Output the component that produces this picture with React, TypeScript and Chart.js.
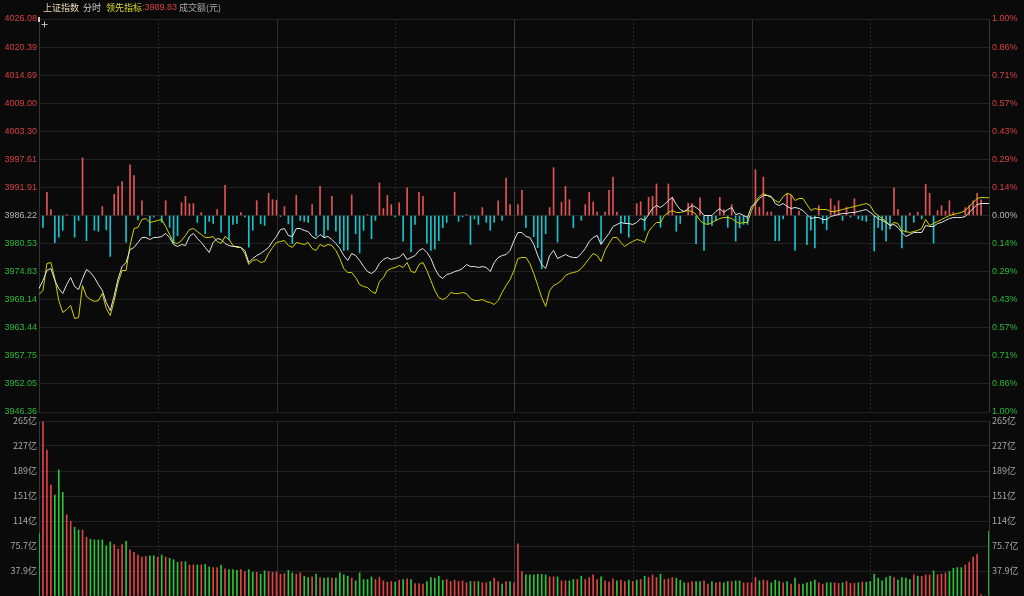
import React, { useEffect, useRef } from 'react';
import { Chart, registerables } from 'chart.js';

Chart.register(...registerables);

const BASE = 3986.22;
const PRICE_TICKS = [4026.08, 4020.39, 4014.69, 4009.0, 4003.3, 3997.61, 3991.91, 3986.22, 3980.53, 3974.83, 3969.14, 3963.44, 3957.75, 3952.05, 3946.36];
const PRICE_LABELS = ['4026.08', '4020.39', '4014.69', '4009.00', '4003.30', '3997.61', '3991.91', '3986.22', '3980.53', '3974.83', '3969.14', '3963.44', '3957.75', '3952.05', '3946.36'];
const PCT_LABELS = ['1.00%', '0.86%', '0.71%', '0.57%', '0.43%', '0.29%', '0.14%', '0.00%', '0.14%', '0.29%', '0.43%', '0.57%', '0.71%', '0.86%', '1.00%'];
const VOL_TICKS = [265.09, 227.22, 189.35, 151.48, 113.61, 75.74, 37.87];
const VOL_LABELS = ['265亿', '227亿', '189亿', '151亿', '114亿', '75.7亿', '37.9亿'];
const V_GRID = [30, 60, 90, 120, 150, 180, 210];
const V_GRID_SOLID = [false, true, false, true, false, true, false];

function hm(t: number): string {
  const h = Math.floor(t / 60);
  const m = t % 60;
  return (h < 10 ? '0' : '') + h + ':' + (m < 10 ? '0' : '') + m;
}
const TIMES: string[] = [];
for (let m = 0; m <= 120; m++) TIMES.push(hm(9 * 60 + 30 + m));
for (let m = 1; m <= 120; m++) TIMES.push(hm(13 * 60 + m));

const PRICE = [
  3971.41, 3973.03, 3975.06, 3975.47, 3973.03, 3971.41, 3970.39, 3972.22, 3973.64, 3971.81,
  3971.21, 3973.44, 3975.26, 3974.65, 3973.64, 3972.22, 3971.0, 3968.57, 3966.94, 3969.99,
  3973.44, 3975.87, 3976.68, 3979.32, 3979.73, 3980.74, 3981.76, 3981.76, 3981.35, 3981.76,
  3981.76, 3981.96, 3982.57, 3981.76, 3980.34, 3979.93, 3980.34, 3980.13, 3981.96, 3982.57,
  3981.55, 3980.74, 3979.73, 3978.71, 3980.74, 3981.55, 3981.35, 3980.54, 3980.13, 3979.93,
  3979.93, 3979.73, 3979.12, 3976.68, 3977.49, 3978.1, 3978.51, 3979.12, 3979.73, 3980.94,
  3981.96, 3983.38, 3983.58, 3982.16, 3981.96, 3983.58, 3983.58, 3983.18, 3982.97, 3981.96,
  3981.55, 3982.36, 3981.76, 3981.96, 3981.35, 3980.54, 3979.52, 3978.1, 3977.09, 3978.51,
  3978.1, 3977.09, 3975.87, 3974.86, 3974.45, 3975.06, 3976.48, 3977.29, 3977.7, 3977.29,
  3977.49, 3977.7, 3978.51, 3977.29, 3977.7, 3978.1, 3979.12, 3979.52, 3978.71, 3977.49,
  3975.47, 3974.05, 3973.44, 3974.25, 3974.45, 3974.86, 3975.06, 3975.47, 3976.28, 3975.87,
  3975.87, 3975.67, 3975.87, 3975.67, 3974.86, 3976.68, 3977.7, 3978.1, 3978.31, 3979.12,
  3981.15, 3982.77, 3982.77, 3981.96, 3981.76, 3980.34, 3978.1, 3976.28, 3975.47, 3978.1,
  3979.12, 3977.49, 3977.9, 3978.31, 3977.9, 3977.7, 3977.7, 3978.51, 3979.52, 3980.94,
  3981.76, 3982.16, 3980.34, 3981.55, 3982.57, 3983.99, 3984.39, 3984.8, 3984.6, 3984.6,
  3984.39, 3984.8, 3985.61, 3985.21, 3986.42, 3987.64, 3988.25, 3987.84, 3988.45, 3989.26,
  3989.87, 3988.45, 3987.44, 3987.03, 3987.64, 3988.25, 3987.84, 3987.23, 3986.22, 3986.22,
  3986.22, 3987.03, 3987.64, 3986.83, 3987.44, 3987.84, 3986.42, 3986.63, 3986.22, 3985.81,
  3988.05, 3988.65, 3989.67, 3990.28, 3990.28, 3990.08, 3988.65, 3988.25, 3988.65, 3988.05,
  3987.64, 3987.84, 3987.64, 3987.23, 3986.42, 3985.61, 3985.81, 3985.81, 3985.41, 3985.41,
  3986.02, 3986.22, 3986.42, 3986.63, 3986.63, 3986.83, 3986.83, 3987.03, 3987.23, 3987.44,
  3986.83, 3986.22, 3985.61, 3985.21, 3984.8, 3984.19, 3984.39, 3983.79, 3982.77, 3981.96,
  3982.36, 3982.77, 3982.77, 3982.77, 3984.19, 3983.99, 3983.99, 3984.6, 3984.8, 3985.21,
  3985.61, 3985.81, 3985.81, 3985.81, 3986.02, 3986.83, 3987.64, 3988.45, 3988.65, 3988.65,
  3988.65,
];

const LEAD = [
  3970.19, 3971.0, 3976.48, 3976.68, 3973.44, 3968.97, 3966.54, 3967.15, 3967.96, 3965.32,
  3965.52, 3972.02, 3969.78, 3969.18, 3968.77, 3968.97, 3970.39, 3967.35, 3965.93, 3968.97,
  3972.63, 3975.06, 3975.06, 3980.13, 3983.58, 3983.79, 3985.41, 3985.61, 3984.8, 3985.0,
  3985.21, 3985.41, 3983.99, 3982.36, 3980.74, 3980.54, 3981.15, 3982.16, 3983.38, 3983.58,
  3982.97, 3982.36, 3981.76, 3981.76, 3981.96, 3980.94, 3980.54, 3981.96, 3981.35, 3980.13,
  3979.73, 3979.73, 3978.51, 3976.28, 3977.09, 3977.29, 3976.68, 3976.89, 3978.51, 3979.73,
  3980.74, 3980.94, 3981.15, 3980.13, 3979.73, 3980.74, 3980.54, 3980.34, 3980.74, 3979.52,
  3979.12, 3980.34, 3979.93, 3980.34, 3980.13, 3979.12, 3977.49, 3975.47, 3974.65, 3974.65,
  3973.64, 3972.22, 3971.81, 3971.61, 3970.8, 3970.39, 3972.83, 3973.64, 3975.06, 3975.47,
  3975.67, 3976.07, 3975.67, 3976.68, 3974.86, 3974.65, 3976.28, 3976.68, 3975.06, 3973.03,
  3971.0, 3969.58, 3969.18, 3969.58, 3970.6, 3970.39, 3970.39, 3970.6, 3970.39, 3969.38,
  3968.97, 3968.97, 3969.18, 3968.77, 3968.57, 3968.16, 3968.97, 3970.6, 3972.02, 3973.23,
  3975.06, 3977.49, 3977.7, 3977.7, 3976.48, 3974.45, 3972.02, 3969.58, 3967.76, 3971.0,
  3972.02, 3972.42, 3973.03, 3974.05, 3974.45, 3974.65, 3974.86, 3975.47, 3976.48, 3977.49,
  3978.51, 3978.1, 3976.89, 3979.12, 3980.54, 3981.76, 3981.76, 3980.74, 3979.93, 3980.54,
  3980.94, 3981.35, 3981.15, 3980.74, 3982.97, 3983.99, 3984.8, 3984.8, 3986.22, 3986.83,
  3987.23, 3986.83, 3986.83, 3987.03, 3987.23, 3987.03, 3986.42, 3985.21, 3984.6, 3984.39,
  3984.8, 3985.21, 3985.61, 3985.81, 3985.81, 3985.61, 3985.0, 3984.6, 3984.8, 3984.8,
  3987.23, 3989.06, 3990.08, 3990.68, 3990.28, 3989.87, 3989.26, 3988.86, 3990.08, 3990.68,
  3990.48, 3989.26, 3989.67, 3989.67, 3988.45, 3987.23, 3987.64, 3987.44, 3987.44, 3987.44,
  3987.03, 3987.03, 3987.23, 3987.44, 3987.64, 3987.84, 3988.05, 3988.25, 3988.45, 3988.65,
  3988.25, 3986.83, 3986.22, 3985.61, 3985.0, 3984.19, 3984.8, 3984.6, 3983.18, 3982.97,
  3982.77, 3982.97, 3983.18, 3983.58, 3985.41, 3984.19, 3984.6, 3985.0, 3985.41, 3985.81,
  3986.22, 3986.42, 3986.63, 3986.83, 3987.23, 3988.05, 3988.86, 3989.67, 3989.87, 3989.83,
  3989.83,
];

// buy / sell strength bars, in index points relative to the previous close
const STRENGTH = [
  0, -2.4, 4.7, 1.2, -5.5, -4.4, -3.0, 0.2, 0, -4.4,
  -1.0, 11.7, -5.1, 0, -3.0, -3.2, 1.8, -2.9, -8.3, 4.3,
  5.9, 6.9, -5.4, 10.3, 8.1, -0.9, 3.0, 0, -4.1, -0.3,
  0, -1.4, 3.0, -2.4, -5.6, -4.1, 2.6, 3.9, 2.4, 2.4,
  -1.4, 0.6, -3.7, -1.2, -1.6, 1.2, -3.4, 6.1, -4.9, -1.8,
  -1.6, 0.6, -0.3, -6.4, -3.0, 3.0, -1.7, -2.0, 4.5, 3.2,
  3.1, -0.2, 1.8, -1.7, -5.7, 4.1, -1.0, -1.2, -1.4, 2.2,
  -4.1, 5.9, -4.4, -2.9, 3.9, -3.2, -5.7, -7.1, -7.0, 4.2,
  -3.7, -7.6, -3.0, 0.2, -4.7, -1.0, 6.6, 1.4, 4.1, 2.2,
  -0.3, 2.6, -5.2, 5.6, -7.4, -1.8, 4.7, 3.9, -5.6, -7.1,
  -6.8, -5.1, -2.5, -1.4, 0, 4.7, -1.2, -0.3, 0.2, -5.9,
  -0.7, -1.8, 1.6, -1.4, -3.0, -1.4, 3.0, -1.0, 7.6, 2.2,
  0, 2.2, 5.1, -2.4, 0, -4.3, -6.5, -10.8, -3.7, 1.6,
  9.7, -5.4, 2.7, 5.9, 3.2, -2.5, 0, -1.0, 2.2, 4.7,
  2.7, 0.7, -5.7, 0.7, 5.1, 7.8, 0.7, -3.6, -1.4, -4.4,
  0, 2.4, 2.8, -3.0, 3.7, 3.9, 6.4, -2.4, 0, 6.4,
  3.7, -3.2, -1.6, 0, 2.5, 2.4, -5.7, 3.6, -7.1, -1.7,
  -2.0, -1.0, 3.7, 1.2, -2.4, 2.2, -5.2, -2.5, -1.8, -1.8,
  0, 9.3, 1.7, 7.8, 0.7, 0.7, -5.1, -5.1, -0.7, 4.5,
  4.1, -7.1, 0.9, 0, -5.9, -3.0, -6.6, 2.0, -1.6, -2.9,
  3.4, 2.0, 3.0, -1.0, 1.7, -0.3, 3.4, -0.7, -1.0, -1.2,
  0, -7.2, -2.4, -3.0, -5.2, -2.7, 5.6, 1.2, -6.6, -3.4,
  0.5, -1.4, 0.7, -0.7, 6.3, 4.5, -5.6, 1.0, 2.0, 0.9,
  3.0, 0.7, 0, 0, 1.6, 2.0, 3.0, 4.5, 3.2, 0,
  0,
];

// turnover in 亿元
const VOLUME = [
  95, 264, 221, 168, 153, 191, 157, 123, 113, 104,
  100, 100, 89, 86, 85, 85, 85, 76, 82, 78,
  71, 78, 83, 70, 66, 62, 59, 60, 61, 61,
  59, 62, 59, 57, 55, 51, 52, 52, 47, 47,
  47, 47, 48, 44, 43, 43, 47, 41, 40, 40,
  39, 40, 37, 40, 36, 36, 33, 38, 37, 36,
  36, 33, 34, 39, 35, 33, 35, 30, 28, 29,
  33, 28, 27, 28, 27, 27, 35, 32, 30, 27,
  23, 35, 25, 25, 29, 25, 28, 23, 21, 22,
  21, 24, 25, 26, 25, 19, 19, 18, 22, 28,
  27, 30, 24, 25, 22, 24, 22, 23, 20, 22,
  22, 22, 20, 20, 22, 27, 22, 18, 22, 22,
  20, 79, 37, 32, 32, 32, 33, 33, 32, 29,
  29, 29, 23, 23, 23, 25, 25, 30, 25, 28,
  32, 25, 29, 23, 21, 26, 23, 24, 22, 24,
  22, 24, 25, 30, 28, 32, 28, 33, 25, 26,
  28, 27, 24, 20, 20, 22, 22, 22, 23, 18,
  22, 20, 21, 20, 22, 22, 23, 23, 20, 20,
  20, 28, 23, 24, 23, 20, 24, 22, 20, 22,
  18, 27, 18, 18, 20, 22, 24, 20, 18, 20,
  20, 20, 19, 20, 22, 19, 19, 20, 21, 21,
  22, 33, 27, 23, 28, 30, 28, 24, 28, 27,
  25, 32, 30, 30, 32, 32, 38, 32, 33, 35,
  37, 42, 43, 43, 47, 51, 59, 63, 2, 0,
  98,
];

// 1 = up minute (red), 0 = down minute (green)
const VOL_UP = [
  0, 1, 1, 1, 0, 0, 0, 1, 1, 0,
  0, 1, 1, 0, 0, 0, 0, 0, 0, 1,
  1, 1, 0, 1, 1, 1, 1, 1, 0, 0,
  1, 0, 1, 0, 0, 0, 1, 0, 1, 1,
  0, 1, 0, 0, 1, 1, 0, 1, 0, 0,
  0, 1, 1, 0, 0, 1, 0, 0, 1, 1,
  1, 1, 1, 0, 0, 1, 1, 0, 0, 1,
  0, 1, 0, 0, 1, 0, 0, 0, 0, 1,
  0, 0, 0, 0, 0, 1, 1, 1, 1, 1,
  0, 1, 0, 1, 0, 1, 1, 1, 0, 0,
  0, 0, 0, 1, 1, 1, 1, 1, 1, 0,
  1, 0, 1, 1, 0, 1, 1, 0, 1, 0,
  1, 1, 1, 0, 0, 0, 0, 0, 0, 1,
  1, 0, 1, 1, 0, 0, 1, 0, 1, 1,
  1, 1, 0, 1, 1, 1, 0, 1, 1, 0,
  1, 0, 1, 0, 1, 1, 1, 0, 1, 1,
  1, 0, 0, 0, 1, 1, 0, 0, 1, 1,
  0, 1, 1, 0, 0, 1, 0, 0, 1, 1,
  1, 1, 0, 1, 1, 0, 0, 0, 1, 0,
  1, 0, 1, 0, 0, 0, 0, 1, 1, 0,
  0, 1, 1, 0, 1, 1, 1, 0, 1, 0,
  0, 0, 0, 0, 0, 0, 1, 0, 0, 0,
  0, 1, 0, 1, 1, 1, 0, 1, 1, 1,
  0, 0, 0, 0, 1, 1, 1, 1, 1, 1,
  0,
];

const BG = '#0a0a0a';
const GRID = '#222222';
const AXIS = '#363636';
const RED_TXT = '#d84040';
const GREEN_TXT = '#2cb83a';
const GREY_TXT = '#b4b4b4';
const FONT = '9px "Liberation Sans", Arial, sans-serif';
const CJK_FONT = '9px "Noto Sans CJK SC", sans-serif';

function drawVerticalGrid(chart: any) {
  const { ctx, chartArea: a, scales } = chart;
  const x = scales.x;
  ctx.save();
  ctx.lineWidth = 1;
  V_GRID.forEach((i, k) => {
    const px = Math.round(x.getPixelForValue(i)) + 0.5;
    ctx.strokeStyle = V_GRID_SOLID[k] ? (i === 120 ? '#3a3a3a' : '#2c2c2c') : '#2a2a2a';
    ctx.setLineDash(V_GRID_SOLID[k] ? [] : [2, 2]);
    ctx.beginPath();
    ctx.moveTo(px, a.top);
    ctx.lineTo(px, a.bottom);
    ctx.stroke();
  });
  ctx.setLineDash([]);
  ctx.strokeStyle = AXIS;
  const r = Math.round(a.right) + 0.5;
  ctx.beginPath();
  ctx.moveTo(r, a.top);
  ctx.lineTo(r, a.bottom);
  ctx.stroke();
  ctx.restore();
}

const pricePlugin = {
  id: 'pricePanel',
  beforeDatasetsDraw(chart: any) {
    drawVerticalGrid(chart);
  },
  afterDraw(chart: any) {
    const { ctx, chartArea: a, scales } = chart;
    const y = scales.y;
    ctx.save();
    ctx.font = FONT;
    ctx.textBaseline = 'middle';
    PRICE_TICKS.forEach((v, k) => {
      const py = y.getPixelForValue(v);
      const col = v > BASE + 0.001 ? RED_TXT : v < BASE - 0.001 ? GREEN_TXT : GREY_TXT;
      ctx.fillStyle = col;
      ctx.textAlign = 'right';
      ctx.fillText(PRICE_LABELS[k], a.left - 2, py);
      ctx.textAlign = 'left';
      ctx.fillText(PCT_LABELS[k], a.right + 3, py);
    });
    // header
    ctx.textAlign = 'left';
    ctx.font = CJK_FONT;
    ctx.fillStyle = '#e6dcb4';
    ctx.fillText('上证指数', 43, 8);
    ctx.fillStyle = '#cfcfcf';
    ctx.fillText('分时', 83, 8);
    ctx.fillStyle = '#dede2a';
    ctx.fillText('领先指标', 106, 8);
    const w = ctx.measureText('领先指标').width;
    ctx.fillStyle = RED_TXT;
    ctx.font = FONT;
    ctx.fillText(':' + LEAD[LEAD.length - 1].toFixed(2), 106 + w, 8);
    ctx.font = CJK_FONT;
    ctx.fillStyle = '#a8a8a8';
    ctx.fillText('成交额(元)', 179, 8);
    // cursor marks
    ctx.fillStyle = '#cccccc';
    ctx.fillRect(38, 17, 2, 5);
    ctx.strokeStyle = '#bbbbbb';
    ctx.lineWidth = 1;
    ctx.beginPath();
    ctx.moveTo(41.5, 24.5);
    ctx.lineTo(47.5, 24.5);
    ctx.moveTo(44.5, 21.5);
    ctx.lineTo(44.5, 27.5);
    ctx.stroke();
    ctx.restore();
  },
};

const volPlugin = {
  id: 'volPanel',
  beforeDatasetsDraw(chart: any) {
    drawVerticalGrid(chart);
  },
  afterDraw(chart: any) {
    const { ctx, chartArea: a, scales } = chart;
    const y = scales.y;
    ctx.save();
    ctx.font = CJK_FONT;
    ctx.textBaseline = 'middle';
    ctx.fillStyle = '#a8a8a8';
    VOL_TICKS.forEach((v, k) => {
      const py = y.getPixelForValue(v);
      ctx.textAlign = 'right';
      ctx.fillText(VOL_LABELS[k], a.left - 2, py);
      ctx.textAlign = 'left';
      ctx.fillText(VOL_LABELS[k], a.right + 3, py);
    });
    ctx.restore();
  },
};

export default function App() {
  const priceRef = useRef<HTMLCanvasElement | null>(null);
  const volRef = useRef<HTMLCanvasElement | null>(null);

  useEffect(() => {
    if (!priceRef.current || !volRef.current) return;
    const priceChart = new Chart(priceRef.current, {
      type: 'bar',
      data: {
        labels: TIMES,
        datasets: [
          {
            type: 'line',
            label: '上证指数',
            data: PRICE,
            borderColor: '#e4e4e4',
            borderWidth: 1,
            pointRadius: 0,
            tension: 0,
            order: 0,
          } as any,
          {
            type: 'line',
            label: '领先指标',
            data: LEAD,
            borderColor: '#d2d200',
            borderWidth: 1,
            pointRadius: 0,
            tension: 0,
            order: 1,
          } as any,
          {
            type: 'bar',
            label: '强弱',
            data: STRENGTH.map((v) => (v === 0 ? null : BASE + v)),
            base: BASE,
            backgroundColor: STRENGTH.map((v) => (v > 0 ? '#e25454' : '#18c2ca')),
            barThickness: 1,
            order: 2,
          } as any,
        ],
      },
      options: {
        responsive: false,
        animation: false,
        events: [],
        layout: { padding: { left: 39, right: 35, top: 19, bottom: 4 } },
        plugins: { legend: { display: false }, tooltip: { enabled: false } },
        scales: {
          x: { type: 'category', display: false, offset: false },
          y: {
            type: 'linear',
            min: 3946.36,
            max: 4026.08,
            afterBuildTicks: (s: any) => {
              s.ticks = PRICE_TICKS.map((v) => ({ value: v }));
            },
            ticks: { display: false },
            grid: { color: GRID, drawTicks: false },
            border: { color: AXIS },
          },
        },
      } as any,
      plugins: [pricePlugin],
    });

    const volChart = new Chart(volRef.current, {
      type: 'bar',
      data: {
        labels: TIMES,
        datasets: [
          {
            label: '成交额',
            data: VOLUME,
            backgroundColor: VOL_UP.map((u) => (u ? '#e04444' : '#2cc43c')),
            barThickness: 1,
          },
        ],
      },
      options: {
        responsive: false,
        animation: false,
        events: [],
        layout: { padding: { left: 39, right: 35, top: 5, bottom: 0 } },
        plugins: { legend: { display: false }, tooltip: { enabled: false } },
        scales: {
          x: { type: 'category', display: false, offset: false },
          y: {
            type: 'linear',
            min: 0,
            max: 265.09,
            afterBuildTicks: (s: any) => {
              s.ticks = [0, ...VOL_TICKS.slice().reverse()].map((v) => ({ value: v }));
            },
            ticks: { display: false },
            grid: { color: GRID, drawTicks: false },
            border: { color: AXIS },
          },
        },
      } as any,
      plugins: [volPlugin],
    });

    return () => {
      priceChart.destroy();
      volChart.destroy();
    };
  }, []);

  return (
    <div style={{ position: 'fixed', left: 0, top: 0, width: 1024, height: 596, background: BG, overflow: 'hidden' }}>
      <canvas ref={priceRef} width={1024} height={416} style={{ position: 'absolute', left: 0, top: 0, width: 1024, height: 416 }} />
      <canvas ref={volRef} width={1024} height={180} style={{ position: 'absolute', left: 0, top: 416, width: 1024, height: 180 }} />
    </div>
  );
}
